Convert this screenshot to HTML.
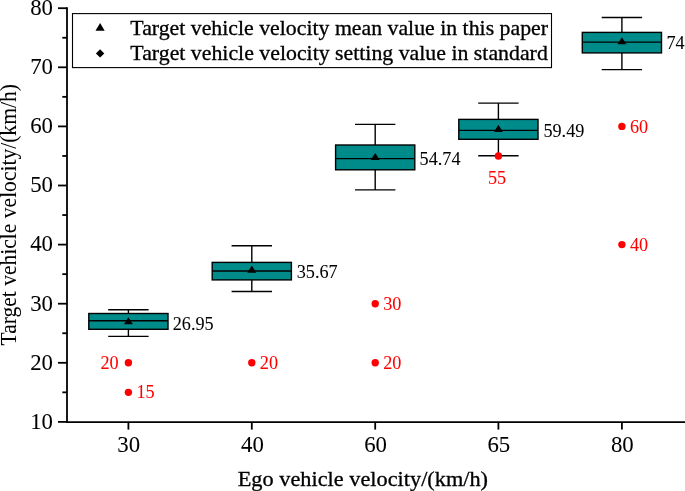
<!DOCTYPE html>
<html lang="en">
<head>
<meta charset="utf-8">
<title>Target vehicle velocity box plot</title>
<style>
html,body{margin:0;padding:0;background:#fff;}
svg{display:block;will-change:transform;}
text{font-family:"Liberation Serif","Times New Roman",serif;fill:#000;stroke:#000;stroke-width:0.3px;}
.red{fill:#ff0000;stroke:#ff0000;stroke-width:0.05px;}
.lbl{stroke-width:0.05px;}
.tk{stroke-width:0.05px;}
.ax{stroke:#000;stroke-width:1.8;fill:none;}
.ln{stroke:#000;stroke-width:1.4;fill:none;}
.box{fill:#008b8b;stroke:#000;stroke-width:1.4;}
</style>
</head>
<body>
<svg width="685" height="491" viewBox="0 0 685 491">
<rect x="0" y="0" width="685" height="491" fill="#ffffff"/>
<line class="ax" x1="67.00" y1="7.30" x2="67.00" y2="423.00"/>
<line class="ax" x1="66.10" y1="422.10" x2="685" y2="422.10"/>
<line class="ax" x1="58.00" y1="421.90" x2="67.00" y2="421.90"/>
<text class="tk" font-size="22.8" transform="translate(30.21,428.73) scale(1.0000,1)">10</text>
<line class="ax" x1="58.00" y1="362.80" x2="67.00" y2="362.80"/>
<text class="tk" font-size="22.8" transform="translate(30.21,369.63) scale(1.0000,1)">20</text>
<line class="ax" x1="58.00" y1="303.70" x2="67.00" y2="303.70"/>
<text class="tk" font-size="22.8" transform="translate(30.21,310.53) scale(1.0000,1)">30</text>
<line class="ax" x1="58.00" y1="244.60" x2="67.00" y2="244.60"/>
<text class="tk" font-size="22.8" transform="translate(30.21,251.43) scale(1.0000,1)">40</text>
<line class="ax" x1="58.00" y1="185.50" x2="67.00" y2="185.50"/>
<text class="tk" font-size="22.8" transform="translate(30.21,192.33) scale(1.0000,1)">50</text>
<line class="ax" x1="58.00" y1="126.40" x2="67.00" y2="126.40"/>
<text class="tk" font-size="22.8" transform="translate(30.21,133.23) scale(1.0000,1)">60</text>
<line class="ax" x1="58.00" y1="67.30" x2="67.00" y2="67.30"/>
<text class="tk" font-size="22.8" transform="translate(30.21,74.13) scale(1.0000,1)">70</text>
<line class="ax" x1="58.00" y1="8.20" x2="67.00" y2="8.20"/>
<text class="tk" font-size="22.8" transform="translate(30.21,15.03) scale(1.0000,1)">80</text>
<line class="ax" x1="62.30" y1="392.35" x2="67.00" y2="392.35"/>
<line class="ax" x1="62.30" y1="333.25" x2="67.00" y2="333.25"/>
<line class="ax" x1="62.30" y1="274.15" x2="67.00" y2="274.15"/>
<line class="ax" x1="62.30" y1="215.05" x2="67.00" y2="215.05"/>
<line class="ax" x1="62.30" y1="155.95" x2="67.00" y2="155.95"/>
<line class="ax" x1="62.30" y1="96.85" x2="67.00" y2="96.85"/>
<line class="ax" x1="62.30" y1="37.75" x2="67.00" y2="37.75"/>
<line class="ax" x1="128.40" y1="421.90" x2="128.40" y2="429.60"/>
<text class="tk" font-size="22.8" transform="translate(117.29,452.30) scale(1.0000,1)">30</text>
<line class="ax" x1="251.80" y1="421.90" x2="251.80" y2="429.60"/>
<text class="tk" font-size="22.8" transform="translate(241.03,452.30) scale(1.0000,1)">40</text>
<line class="ax" x1="375.20" y1="421.90" x2="375.20" y2="429.60"/>
<text class="tk" font-size="22.8" transform="translate(364.20,452.30) scale(1.0000,1)">60</text>
<line class="ax" x1="498.40" y1="421.90" x2="498.40" y2="429.60"/>
<text class="tk" font-size="22.8" transform="translate(487.40,452.30) scale(1.0000,1)">65</text>
<line class="ax" x1="621.90" y1="421.90" x2="621.90" y2="429.60"/>
<text class="tk" font-size="22.8" transform="translate(610.90,452.30) scale(1.0000,1)">80</text>
<text font-size="20.6" transform="translate(237.73,486.30) scale(1.0837,1)">Ego vehicle velocity/(km/h)</text>
<text class="tk" font-size="22.3" transform="translate(15.90,345.53) rotate(-90) scale(0.9667,1)">Target vehicle velocity/(km/h)</text>
<rect x="72.5" y="13.6" width="479" height="54.0" fill="#fff" stroke="#000" stroke-width="1.1"/>
<path d="M100.1 23.0 L104.7 30.8 L95.5 30.8 Z" fill="#000"/>
<path d="M100.1 49.2 L104.3 53.4 L100.1 57.6 L95.9 53.4 Z" fill="#000"/>
<text font-size="20.6" transform="translate(130.36,34.70) scale(1.0592,1)">Target vehicle velocity mean value in this paper</text>
<text font-size="20.6" transform="translate(130.36,60.20) scale(1.0596,1)">Target vehicle velocity setting value in standard</text>
<line class="ln" x1="128.40" y1="309.70" x2="128.40" y2="336.40"/>
<line class="ln" x1="108.20" y1="309.70" x2="148.60" y2="309.70"/>
<line class="ln" x1="108.20" y1="336.40" x2="148.60" y2="336.40"/>
<rect class="box" x="88.80" y="313.50" width="79.20" height="15.80"/>
<line class="ln" x1="88.80" y1="320.80" x2="168.00" y2="320.80"/>
<path d="M128.40 317.13 L132.90 324.23 L123.90 324.23 Z" fill="#000"/>
<text class="lbl" font-size="18.2" transform="translate(172.77,329.53) scale(1.0000,1)">26.95</text>
<line class="ln" x1="251.80" y1="245.70" x2="251.80" y2="291.50"/>
<line class="ln" x1="231.60" y1="245.70" x2="272.00" y2="245.70"/>
<line class="ln" x1="231.60" y1="291.50" x2="272.00" y2="291.50"/>
<rect class="box" x="212.20" y="262.40" width="79.20" height="17.50"/>
<line class="ln" x1="212.20" y1="271.00" x2="291.40" y2="271.00"/>
<path d="M251.80 265.59 L256.30 272.69 L247.30 272.69 Z" fill="#000"/>
<text class="lbl" font-size="18.2" transform="translate(296.69,277.83) scale(1.0000,1)">35.67</text>
<line class="ln" x1="375.20" y1="124.40" x2="375.20" y2="189.90"/>
<line class="ln" x1="355.00" y1="124.40" x2="395.40" y2="124.40"/>
<line class="ln" x1="355.00" y1="189.90" x2="395.40" y2="189.90"/>
<rect class="box" x="335.60" y="145.00" width="79.20" height="24.80"/>
<line class="ln" x1="335.60" y1="158.60" x2="414.80" y2="158.60"/>
<path d="M375.20 152.89 L379.70 159.99 L370.70 159.99 Z" fill="#000"/>
<text class="lbl" font-size="18.2" transform="translate(419.61,164.93) scale(1.0000,1)">54.74</text>
<line class="ln" x1="498.40" y1="103.10" x2="498.40" y2="155.70"/>
<line class="ln" x1="478.20" y1="103.10" x2="518.60" y2="103.10"/>
<line class="ln" x1="478.20" y1="155.70" x2="518.60" y2="155.70"/>
<rect class="box" x="458.80" y="119.40" width="79.20" height="19.90"/>
<line class="ln" x1="458.80" y1="130.40" x2="538.00" y2="130.40"/>
<path d="M498.40 124.81 L502.90 131.91 L493.90 131.91 Z" fill="#000"/>
<text class="lbl" font-size="18.2" transform="translate(543.41,137.03) scale(1.0000,1)">59.49</text>
<line class="ln" x1="621.90" y1="17.50" x2="621.90" y2="69.60"/>
<line class="ln" x1="601.70" y1="17.50" x2="642.10" y2="17.50"/>
<line class="ln" x1="601.70" y1="69.60" x2="642.10" y2="69.60"/>
<rect class="box" x="582.30" y="32.40" width="79.20" height="20.50"/>
<line class="ln" x1="582.30" y1="42.10" x2="661.50" y2="42.10"/>
<path d="M621.90 37.17 L626.40 44.27 L617.40 44.27 Z" fill="#000"/>
<text class="lbl" font-size="18.2" transform="translate(666.53,48.83) scale(1.0000,1)">74</text>
<circle cx="128.40" cy="362.80" r="3.7" fill="#ff0000"/>
<text class="red" font-size="18.2" transform="translate(100.43,369.48) scale(1.0000,1)">20</text>
<circle cx="128.40" cy="392.35" r="3.7" fill="#ff0000"/>
<text class="red" font-size="18.2" transform="translate(136.45,398.43) scale(1.0000,1)">15</text>
<circle cx="251.80" cy="362.80" r="3.7" fill="#ff0000"/>
<text class="red" font-size="18.2" transform="translate(259.85,369.48) scale(1.0000,1)">20</text>
<circle cx="375.20" cy="303.70" r="3.7" fill="#ff0000"/>
<text class="red" font-size="18.2" transform="translate(383.25,309.78) scale(1.0000,1)">30</text>
<circle cx="375.20" cy="362.80" r="3.7" fill="#ff0000"/>
<text class="red" font-size="18.2" transform="translate(383.25,369.48) scale(1.0000,1)">20</text>
<circle cx="498.40" cy="155.95" r="3.7" fill="#ff0000"/>
<text class="red" font-size="18.2" transform="translate(487.92,183.60) scale(1.0000,1)">55</text>
<circle cx="621.90" cy="126.40" r="3.7" fill="#ff0000"/>
<text class="red" font-size="18.2" transform="translate(629.95,133.28) scale(1.0000,1)">60</text>
<circle cx="621.90" cy="244.60" r="3.7" fill="#ff0000"/>
<text class="red" font-size="18.2" transform="translate(629.95,250.68) scale(1.0000,1)">40</text>
</svg>
</body>
</html>
